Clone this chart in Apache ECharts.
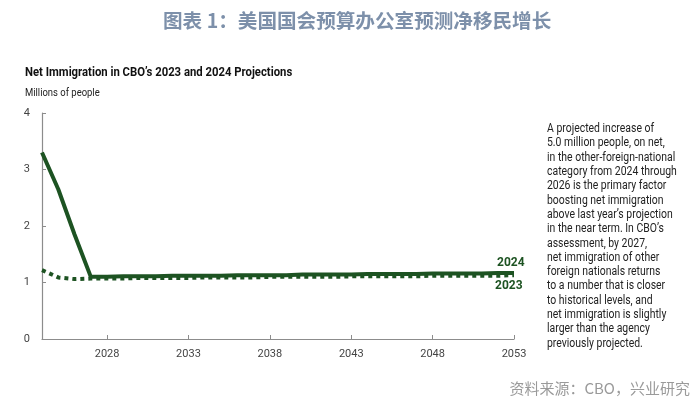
<!DOCTYPE html>
<html><head><meta charset="utf-8">
<script src="https://cdn.jsdelivr.net/npm/echarts@6/dist/echarts.min.js"></script>
<style>html,body{margin:0;padding:0;background:#fff}#c{width:700px;height:415px}</style>
</head><body><div id="c"></div>
<script>
const years = [2024,2025,2026,2027,2028,2029,2030,2031,2032,2033,2034,2035,2036,2037,2038,2039,2040,2041,2042,2043,2044,2045,2046,2047,2048,2049,2050,2051,2052,2053];
const proj2024 = [3.30,2.65,1.85,1.10,1.10,1.11,1.11,1.11,1.12,1.12,1.12,1.12,1.13,1.13,1.13,1.13,1.14,1.14,1.14,1.14,1.15,1.15,1.15,1.15,1.16,1.16,1.16,1.16,1.17,1.17];
const proj2023 = [1.22,1.09,1.06,1.07,1.07,1.07,1.08,1.08,1.08,1.08,1.09,1.09,1.09,1.09,1.10,1.10,1.10,1.10,1.10,1.11,1.11,1.11,1.11,1.11,1.12,1.12,1.12,1.12,1.12,1.13];
const xTickLabels = [2028,2033,2038,2043,2048,2053];
const seriesNames = ['2024','2023'];
const mainTitle = '图表 1：美国国会预算办公室预测净移民增长';
const subTitle = 'Net Immigration in CBO\u2019s 2023 and 2024 Projections';
const unitLabel = 'Millions of people';
const sourceText = '资料来源：CBO，兴业研究';
const noteLines = [
 'A projected increase of',
 '5.0 million people, on net,',
 'in the other-foreign-national',
 'category from 2024 through',
 '2026 is the primary factor',
 'boosting net immigration',
 'above last year\u2019s projection',
 'in the near term. In CBO\u2019s',
 'assessment, by 2027,',
 'net immigration of other',
 'foreign nationals returns',
 'to a number that is closer',
 'to historical levels, and',
 'net immigration is slightly',
 'larger than the agency',
 'previously projected.'
];
const green = '#1d5322';
const sans = 'Roboto, sans-serif';
const chart = echarts.init(document.getElementById('c'));
const showYear = (i, v) => xTickLabels.indexOf(Number(v)) >= 0;
chart.setOption({
  animation: false,
  grid: {left: 42, right: 186, top: 113, bottom: 76},
  xAxis: {
    type: 'category', data: years.map(String), boundaryGap: false,
    axisLine: {lineStyle: {color: '#8c8c8c', width: 1.2}},
    axisTick: {inside: true, length: 4, interval: showYear, lineStyle: {color: '#8c8c8c'}},
    axisLabel: {interval: showYear, color: '#444', fontSize: 11, fontFamily: sans, margin: 10}
  },
  yAxis: {
    type: 'value', min: 0, max: 4, interval: 1,
    splitLine: {show: false},
    axisLine: {show: true, lineStyle: {color: '#8c8c8c', width: 1.2}},
    axisTick: {show: true, inside: true, length: 4, lineStyle: {color: '#8c8c8c'}},
    axisLabel: {color: '#444', fontSize: 11, fontFamily: sans, margin: 12}
  },
  series: [
    {name: seriesNames[1], type: 'line', data: proj2023, symbol: 'none', z: 2,
     lineStyle: {color: green, width: 4, type: [4, 4], cap: 'butt'},
     endLabel: {show: true, formatter: seriesNames[1], color: green, fontWeight: 'bold', fontSize: 12, fontFamily: sans, offset: [-27, 11]}},
    {name: seriesNames[0], type: 'line', data: proj2024, symbol: 'none', z: 3,
     lineStyle: {color: green, width: 4}},
  ],
  graphic: [
    {type: 'text', left: 163, top: 11, style: {text: mainTitle, fill: '#7d90aa', font: 'bold 19.6px "Noto Sans CJK SC"'}},
    {type: 'text', x: 25, y: 66, scaleX: 0.87, style: {text: subTitle, fill: '#111', font: 'bold 13px ' + sans, verticalAlign: 'top'}},
    {type: 'text', x: 25, y: 88, scaleX: 0.86, style: {text: unitLabel, fill: '#222', font: '11px ' + sans, verticalAlign: 'top'}},
    {type: 'text', x: 547, y: 122, scaleX: 0.87, style: {text: noteLines.join('\n'), fill: '#222', font: '12px ' + sans, lineHeight: 14.3, verticalAlign: 'top'}},
    {type: 'text', right: 10, top: 381, style: {text: sourceText, fill: '#9a9a9a', font: '15px "Noto Sans CJK SC"'}},
    {type: 'text', left: 497, top: 257, style: {text: seriesNames[0], fill: green, font: 'bold 12px ' + sans}}
  ]
});
</script></body></html>
